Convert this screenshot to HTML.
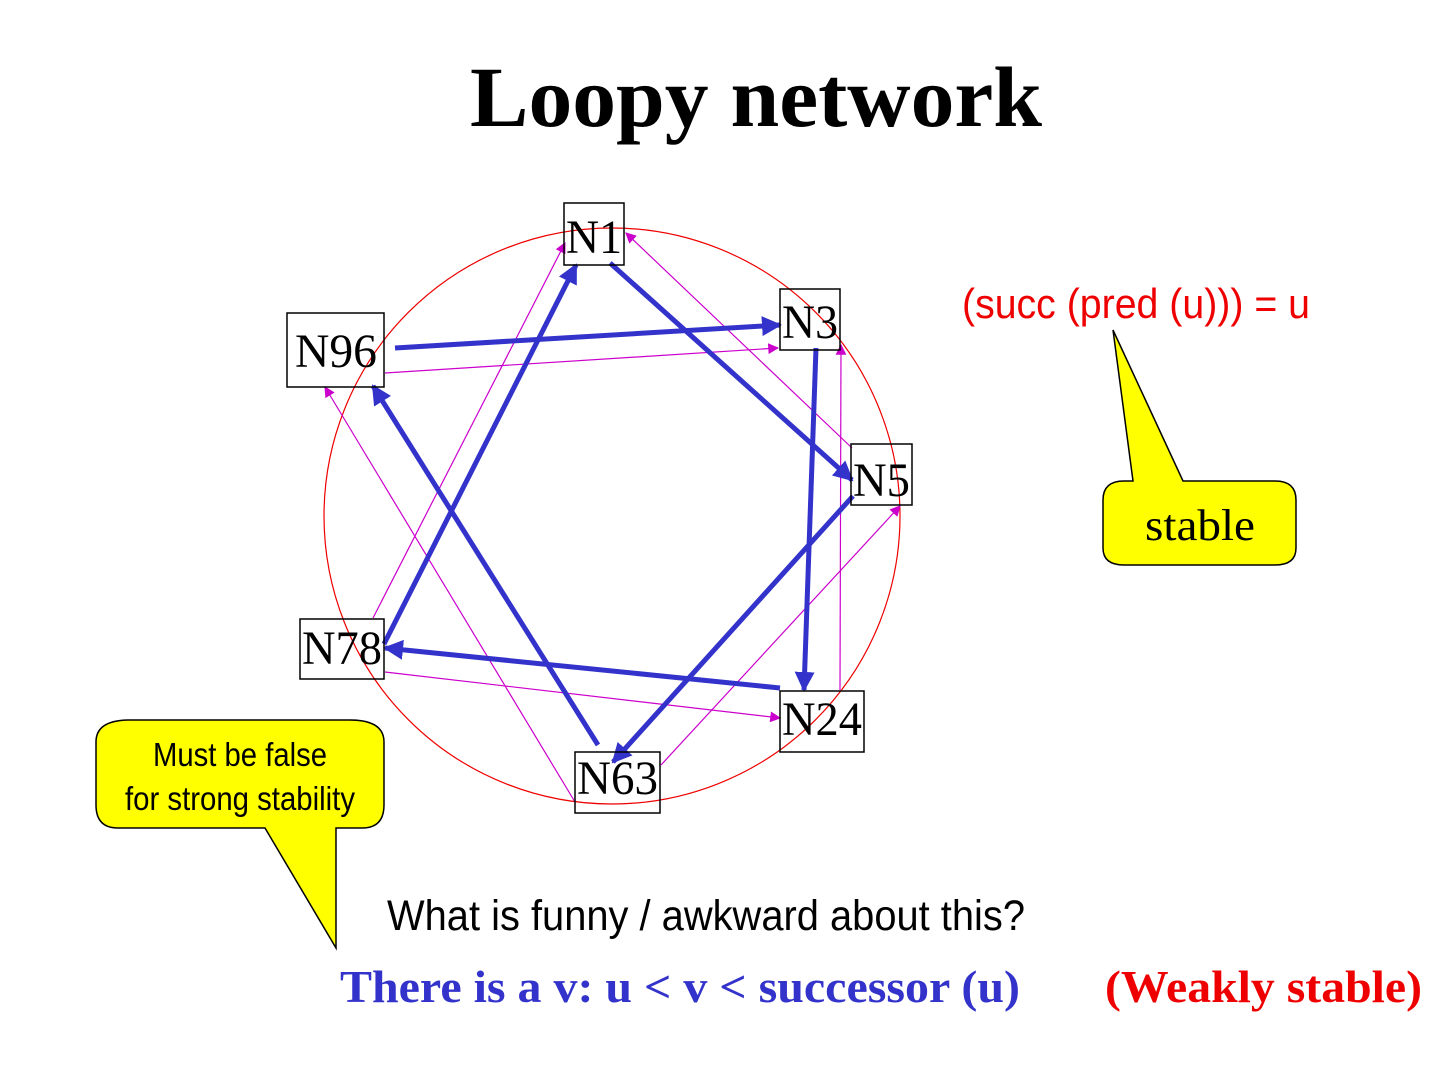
<!DOCTYPE html>
<html><head><meta charset="utf-8"><style>html,body{margin:0;padding:0;background:#fff}svg{display:block}</style></head>
<body>
<svg width="1440" height="1080" viewBox="0 0 1440 1080" xmlns="http://www.w3.org/2000/svg">
<defs>
<marker id="bh" viewBox="0 0 10 10" refX="9" refY="5" markerWidth="4" markerHeight="4" orient="auto" markerUnits="strokeWidth"><path d="M0,0 L10,5 L0,10 z" fill="#3333cc"/></marker>
<marker id="mh" viewBox="0 0 10 10" refX="9" refY="5" markerWidth="10" markerHeight="9" orient="auto" markerUnits="strokeWidth"><path d="M0,0 L10,5 L0,10 z" fill="#cc00cc"/></marker>
</defs>
<text x="470" y="126" font-family="Liberation Serif, serif" font-weight="bold" font-size="86" textLength="572" lengthAdjust="spacingAndGlyphs">Loopy network</text>
<circle cx="612" cy="516" r="288" fill="none" stroke="#ee0000" stroke-width="1.2"/>
<g stroke="#cc00cc" stroke-width="1.2" fill="none" marker-end="url(#mh)">
<line x1="385" y1="373" x2="778" y2="348"/>
<line x1="852" y1="448" x2="626" y2="233"/>
<line x1="840" y1="690" x2="841" y2="345"/>
<line x1="661" y1="765" x2="900" y2="506"/>
<line x1="385" y1="672" x2="780" y2="718"/>
<line x1="575" y1="802" x2="325" y2="387"/>
<line x1="373" y1="618" x2="565" y2="243"/>
</g>
<g stroke="#3333cc" stroke-width="5" fill="none" marker-end="url(#bh)">
<line x1="395" y1="348" x2="780" y2="325"/>
<line x1="610" y1="263" x2="852" y2="480"/>
<line x1="816" y1="348" x2="804" y2="690"/>
<line x1="853" y1="496" x2="613" y2="762"/>
<line x1="780" y1="688" x2="385" y2="648"/>
<line x1="598" y1="745" x2="373" y2="386"/>
<line x1="384" y1="644" x2="576" y2="265"/>
</g>
<g font-family="Liberation Serif, serif" font-size="48" fill="#000">
<rect x="564" y="203" width="60" height="62" fill="none" stroke="#000" stroke-width="1.5"/><text x="566" y="253" textLength="56" lengthAdjust="spacingAndGlyphs">N1</text>
<rect x="780" y="289" width="60" height="61" fill="none" stroke="#000" stroke-width="1.5"/><text x="782" y="338" textLength="56" lengthAdjust="spacingAndGlyphs">N3</text>
<rect x="287" y="313" width="97" height="74" fill="none" stroke="#000" stroke-width="1.5"/><text x="295" y="367" textLength="82" lengthAdjust="spacingAndGlyphs">N96</text>
<rect x="851" y="444" width="61" height="61" fill="none" stroke="#000" stroke-width="1.5"/><text x="853" y="496" textLength="57" lengthAdjust="spacingAndGlyphs">N5</text>
<rect x="300" y="619" width="84" height="60" fill="none" stroke="#000" stroke-width="1.5"/><text x="302" y="664" textLength="80" lengthAdjust="spacingAndGlyphs">N78</text>
<rect x="780" y="691" width="84" height="61" fill="none" stroke="#000" stroke-width="1.5"/><text x="782" y="735" textLength="80" lengthAdjust="spacingAndGlyphs">N24</text>
<rect x="575" y="752" width="85" height="61" fill="none" stroke="#000" stroke-width="1.5"/><text x="577" y="794" textLength="81" lengthAdjust="spacingAndGlyphs">N63</text>
</g>
<text x="962" y="318" font-family="Liberation Sans Narrow, Liberation Sans, sans-serif" font-size="42" fill="#ee0000" textLength="348" lengthAdjust="spacingAndGlyphs">(succ (pred (u))) = u</text>
<path d="M1133,481 L1113,330 L1183,481 L1275,481 Q1296,481 1296,500 L1296,548 Q1296,565 1275,565 L1124,565 Q1103,565 1103,548 L1103,500 Q1103,481 1124,481 Z" fill="#ffff00" stroke="#000" stroke-width="1.5"/>
<text x="1145" y="540" font-family="Liberation Serif, serif" font-size="44" textLength="110" lengthAdjust="spacingAndGlyphs">stable</text>
<path d="M265,828 L336,948 L336,828 L362,828 Q384,828 384,805 L384,742 Q384,720 350,720 L130,720 Q96,720 96,742 L96,805 Q96,828 118,828 Z" fill="#ffff00" stroke="#000" stroke-width="1.5"/>
<text x="153" y="766" font-family="Liberation Sans Narrow, Liberation Sans, sans-serif" font-size="33" textLength="174" lengthAdjust="spacingAndGlyphs">Must be false</text>
<text x="125" y="810" font-family="Liberation Sans Narrow, Liberation Sans, sans-serif" font-size="33" textLength="230" lengthAdjust="spacingAndGlyphs">for strong stability</text>
<text x="387" y="930" font-family="Liberation Sans Narrow, Liberation Sans, sans-serif" font-size="43" textLength="638" lengthAdjust="spacingAndGlyphs">What is funny / awkward  about this?</text>
<text x="340" y="1002" font-family="Liberation Serif, serif" font-weight="bold" font-size="45" fill="#3333cc" textLength="680" lengthAdjust="spacingAndGlyphs">There is a v: u &lt; v &lt; successor (u)</text>
<text x="1105" y="1002" font-family="Liberation Serif, serif" font-weight="bold" font-size="45" fill="#ee0000" textLength="317" lengthAdjust="spacingAndGlyphs">(Weakly stable)</text>
</svg>
</body></html>
